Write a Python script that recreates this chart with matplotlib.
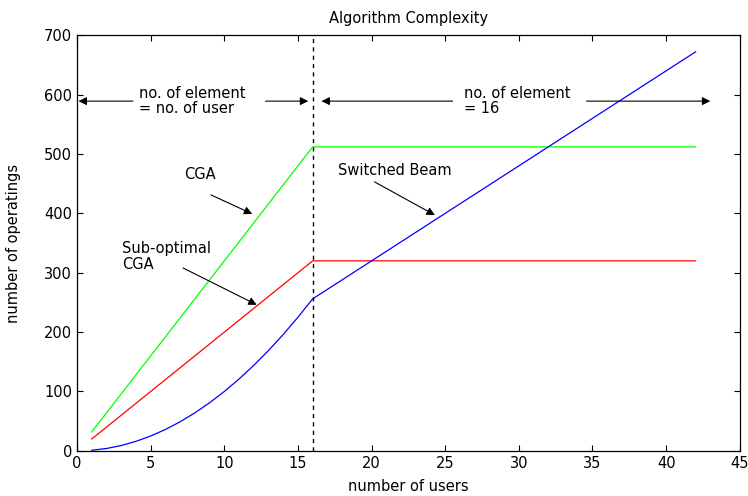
import matplotlib.pyplot as plt

plt.rcParams['font.family'] = ['DejaVu Sans']
fs = 10.5

# values
users_lin = [1, 16, 42]
cga = [32, 512, 512]
sub_cga = [20, 320, 320]

users_sb = [1, 2, 3, 4, 5, 6, 7, 8, 9, 10, 11, 12, 13, 14, 15, 16, 42]
switched_beam = [1, 4, 9, 16, 25, 36, 49, 64, 81, 100, 121, 144, 169, 196, 225, 256, 672]

boundary = 16

fig = plt.figure(figsize=(7.48, 4.96), dpi=100)
ax = fig.add_axes([0.103, 0.091, 0.886, 0.838])

ax.plot(users_lin, cga, color='#00ff00', lw=0.9)
ax.plot(users_lin, sub_cga, color='#ff0000', lw=0.9)
ax.plot(users_sb, switched_beam, color='#0000ff', lw=0.9)
ax.axvline(boundary, color='k', ls=(0, (3, 3)), lw=1.0)

ax.set_xlim(0, 45)
ax.set_ylim(0, 700)
ax.set_xticks(range(0, 46, 5))
ax.set_yticks(range(0, 701, 100))
ax.tick_params(direction='in', top=True, right=True, labelsize=fs, length=4)
for s in ax.spines.values():
    s.set_linewidth(0.9)

ax.set_title('Algorithm Complexity', fontsize=fs, pad=9)
ax.set_xlabel('number of users', fontsize=fs)
ax.set_ylabel('number of operatings', fontsize=fs)
ax.xaxis.set_label_coords(0.5, -0.068)
ax.yaxis.set_label_coords(-0.084, 0.5)

arrow = dict(arrowstyle='-|>', color='k', lw=0.8, mutation_scale=12, shrinkA=0, shrinkB=0)

# region arrows
ax.annotate('', xy=(0.1, 589), xytext=(3.8, 589), arrowprops=arrow)
ax.annotate('', xy=(15.7, 589), xytext=(12.8, 589), arrowprops=arrow)
ax.annotate('', xy=(16.6, 589), xytext=(25.5, 589), arrowprops=arrow)
ax.annotate('', xy=(43.0, 589), xytext=(34.6, 589), arrowprops=arrow)
ax.text(4.2, 589, 'no. of element\n= no. of user', fontsize=fs, va='center', ha='left', linespacing=1.05)
ax.text(26.3, 589, 'no. of element\n= 16', fontsize=fs, va='center', ha='left', linespacing=1.05)

# curve labels
ax.text(7.3, 465, 'CGA', fontsize=fs, va='center')
ax.annotate('', xy=(11.9, 399), xytext=(9.1, 431), arrowprops=arrow)
ax.text(3.05, 327, 'Sub-optimal\nCGA', fontsize=fs, va='center', linespacing=1.05)
ax.annotate('', xy=(12.2, 246), xytext=(7.2, 308), arrowprops=arrow)
ax.text(17.7, 473, 'Switched Beam', fontsize=fs, va='center')
ax.annotate('', xy=(24.3, 397), xytext=(20.2, 453), arrowprops=arrow)

fig.savefig('out.png', dpi=100)
